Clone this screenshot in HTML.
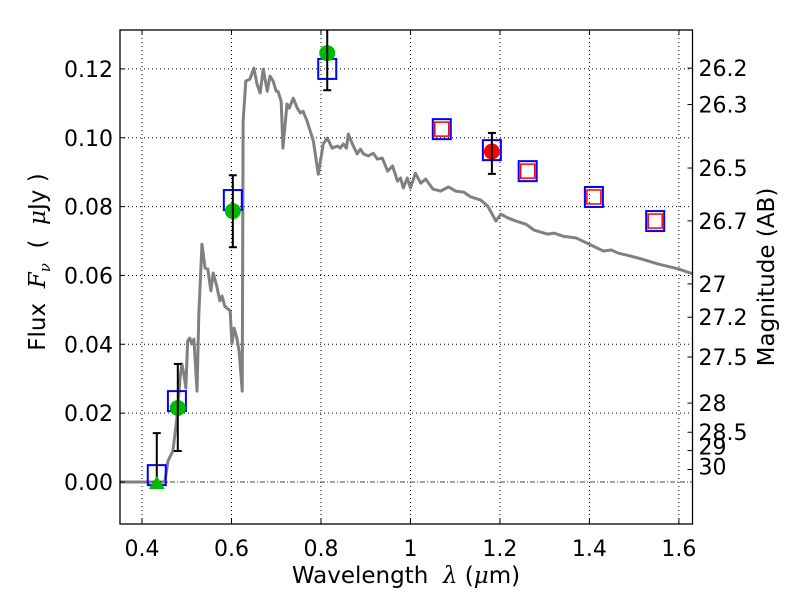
<!DOCTYPE html>
<html><head><meta charset="utf-8"><style>
body{margin:0;background:#fff}
svg text{font-family:"DejaVu Sans","Liberation Sans",sans-serif;fill:#000}
</style></head><body>
<svg id="chart" width="800" height="600" viewBox="0 0 800 600" xmlns="http://www.w3.org/2000/svg">
<rect x="0" y="0" width="800" height="600" fill="#fff"/>
<g id="grid"></g>
<g id="plot"></g>
<g id="axes"></g>
<text x="406" y="583" font-size="23" text-anchor="middle" xml:space="preserve">Wavelength  <tspan font-style="italic" font-family="DejaVu Serif,serif">λ</tspan> (<tspan font-style="italic" font-family="DejaVu Serif,serif">μ</tspan>m)</text>
<text transform="translate(45,262) rotate(-90)" font-size="23" text-anchor="middle" xml:space="preserve">Flux  <tspan font-style="italic" font-family="DejaVu Serif,serif">F</tspan><tspan font-style="italic" font-family="DejaVu Serif,serif" font-size="15" dy="5">ν</tspan><tspan dy="-5">  (  </tspan><tspan font-style="italic" font-family="DejaVu Serif,serif">μ</tspan>Jy )</text>
<text transform="translate(774,277) rotate(-90)" font-size="23" text-anchor="middle">Magnitude (AB)</text>
</svg>
<script>
const specWave=[0.350,0.440,0.451,0.458,0.469,0.478,0.485,0.489,0.4935,0.498,0.502,0.507,0.511,0.516,0.523,0.527,0.534,0.541,0.547,0.554,0.559,0.567,0.574,0.579,0.585,0.597,0.601,0.606,0.612,0.617,0.624,0.626,0.632,0.641,0.650,0.657,0.664,0.671,0.680,0.686,0.693,0.700,0.704,0.711,0.715,0.724,0.729,0.738,0.747,0.754,0.760,0.769,0.776,0.783,0.794,0.805,0.814,0.825,0.837,0.843,0.850,0.857,0.861,0.870,0.881,0.888,0.895,0.906,0.917,0.926,0.937,0.949,0.960,0.971,0.978,0.984,0.993,1.000,1.011,1.023,1.034,1.050,1.067,1.085,1.101,1.119,1.135,1.157,1.173,1.191,1.202,1.218,1.236,1.258,1.276,1.307,1.321,1.341,1.370,1.404,1.431,1.449,1.464,1.493,1.516,1.554,1.599,1.632];
const specFlux=[0,0,0,0.0061,0.0090,0.0186,0.0302,0.0343,0.0314,0.0273,0.0410,0.0418,0.0401,0.0415,0.0264,0.0488,0.0691,0.0621,0.0619,0.0555,0.0607,0.0569,0.0526,0.0540,0.0511,0.0497,0.0401,0.0447,0.0418,0.0380,0.0264,0.1048,0.1165,0.1170,0.1202,0.1156,0.1130,0.1199,0.1135,0.1179,0.1165,0.1135,0.1135,0.1106,0.0970,0.1098,0.1086,0.1115,0.1086,0.1072,0.1077,0.1048,0.1019,0.0990,0.0894,0.0982,0.0999,0.0970,0.0976,0.0970,0.0982,0.0970,0.1011,0.0982,0.0953,0.0967,0.0953,0.0947,0.0955,0.0938,0.0941,0.0903,0.0918,0.0874,0.0883,0.0854,0.0883,0.0854,0.0897,0.0868,0.0880,0.0851,0.0845,0.0857,0.0845,0.0842,0.0828,0.0819,0.0801,0.0758,0.0778,0.0767,0.0758,0.0749,0.0732,0.0720,0.0723,0.0714,0.0709,0.0688,0.0671,0.0674,0.0665,0.0656,0.0648,0.0633,0.0619,0.0604];
const modelWave=[0.433,0.478,0.603,0.814,1.070,1.182,1.262,1.410,1.547];
const modelFlux=[0.0020,0.0235,0.0819,0.1200,0.1025,0.0964,0.0903,0.0828,0.0758];
const redSqIdx=[4,6,7,8];
const obsWave=[0.480,0.603,0.814];
const obsFlux=[0.0215,0.0787,0.1246];
const obsErrLo=[0.0125,0.0105,0.0108];
const obsErrHi=[0.0128,0.0104,0.0110];
const limWave=[0.433];
const limFlux=[0.0];
const limErrHi=[0.0142];
const redWave=[1.182];
const redFlux=[0.0960];
const redErrLo=[0.0065];
const redErrHi=[0.0054];
const xTicks=[0.4,0.6,0.8,1.0,1.2,1.4,1.6];
const xTickLabels=["0.4","0.6","0.8","1","1.2","1.4","1.6"];
const yTicks=[0,0.02,0.04,0.06,0.08,0.10,0.12];
const yTickLabels=["0.00","0.02","0.04","0.06","0.08","0.10","0.12"];
const magTicks=[26.2,26.3,26.5,26.7,27,27.2,27.5,28,28.5,29,30];
const magLabels=["26.2","26.3","26.5","26.7","27","27.2","27.5","28","28.5","29","30"];

const L=120,R=692.5,T=30,B=524;
const xMin=0.3508,xMax=1.6304,yMin=-0.0122,yMax=0.1313;
const X=v=>L+(v-xMin)/(xMax-xMin)*(R-L);
const Y=v=>B-(v-yMin)/(yMax-yMin)*(B-T);
const NS="http://www.w3.org/2000/svg";
function mk(tag,attrs,parent){const e=document.createElementNS(NS,tag);for(const k in attrs)e.setAttribute(k,attrs[k]);parent.appendChild(e);return e;}
const grid=document.getElementById('grid'),plot=document.getElementById('plot'),axes=document.getElementById('axes');

xTicks.forEach((t,i)=>{
 const g=mk('line',{x1:X(t),x2:X(t),y1:T,y2:B,stroke:'#000','stroke-width':1,'stroke-dasharray':'1,3'},grid);
 
 
 const a=mk('line',{x1:X(t),x2:X(t),y1:B,y2:B-5,stroke:'#000','stroke-width':1},axes);
 
 
 const a2=mk('line',{x1:X(t),x2:X(t),y1:T,y2:T+5,stroke:'#000','stroke-width':1},axes);
 
 
 const tx=mk('text',{x:X(t),y:B+32,'font-size':22,'text-anchor':'middle'},axes);tx.textContent=xTickLabels[i];
 
 
});
yTicks.forEach((t,i)=>{
 if(t!==0){const g=mk('line',{x1:L,x2:R,y1:Y(t),y2:Y(t),stroke:'#000','stroke-width':1,'stroke-dasharray':'1,3'},grid);
 
 }
 const a=mk('line',{x1:L,x2:L+5,y1:Y(t),y2:Y(t),stroke:'#000','stroke-width':1},axes);
 
 
 const tx=mk('text',{x:L-7,y:Y(t)+8,'font-size':22,'text-anchor':'end'},axes);tx.textContent=yTickLabels[i];
 
 
});
const zl=mk('line',{x1:L,x2:R,y1:Y(0),y2:Y(0),stroke:'#444','stroke-width':1,'stroke-dasharray':'5,2,1,2'},grid);


magTicks.forEach((m,i)=>{
 const f=Math.pow(10,(23.9-m)/2.5);const y=Y(f);
 const a=mk('line',{x1:R,x2:R-5,y1:y,y2:y,stroke:'#000','stroke-width':1},axes);
 
 
 let ly=y+8; if(m===29)ly=y+4; if(m===30)ly=y+5;
 const tx=mk('text',{x:R+6,y:ly,'font-size':22},axes);tx.textContent=magLabels[i];
 
 
});
const cp=mk('clipPath',{id:'clip'},plot);mk('rect',{x:L,y:T,width:R-L,height:B-T},cp);
const pg=mk('g',{'clip-path':'url(#clip)'},plot);


const sp=mk('polyline',{points:specWave.map((w,i)=>X(w)+','+Y(specFlux[i])).join(' '),fill:'none',stroke:'#808080','stroke-width':3,'stroke-linejoin':'round'},pg);


function errbar(x,y,lo,hi,name){
 const x0=X(x);const y1=Y(y+hi),y2=Y(y-lo);
 const g=mk('g',{stroke:'#000','stroke-width':2},pg);
 
 
 mk('line',{x1:x0,x2:x0,y1:y1,y2:y2},g);
 mk('line',{x1:x0-4,x2:x0+4,y1:y1,y2:y1},g);
 mk('line',{x1:x0-4,x2:x0+4,y1:y2,y2:y2},g);
}
modelWave.forEach((w,i)=>{
 const r=mk('rect',{x:X(w)-9,y:Y(modelFlux[i])-10,width:18,height:20,fill:'none',stroke:'#0000ff','stroke-width':2},pg);
 
 
});
redSqIdx.forEach(i=>{
 const r=mk('rect',{x:X(modelWave[i])-7,y:Y(modelFlux[i])-7,width:14,height:14,fill:'none',stroke:'#ff0000','stroke-width':1.5},pg);
 
 
});
obsWave.forEach((w,i)=>{
 const c=mk('circle',{cx:X(w),cy:Y(obsFlux[i]),r:8,fill:'#00bb00'},pg);
 
 
 errbar(w,obsFlux[i],obsErrLo[i],obsErrHi[i],'observed-error-bar');
});
limWave.forEach((w,i)=>{
 errbar(w,limFlux[i],0,limErrHi[i],'limit-error-bar');
 const x0=X(w),y0=Y(limFlux[i]);
 const p=mk('polygon',{points:`${x0-8},${y0+7} ${x0+8},${y0+7} ${x0},${y0-6}`,fill:'#00bb00'},pg);
 
 
});
redWave.forEach((w,i)=>{
 const c=mk('circle',{cx:X(w),cy:Y(redFlux[i]),r:8,fill:'#ff0000'},pg);
 
 
 errbar(w,redFlux[i],redErrLo[i],redErrHi[i],'red-error-bar');
});
const fr=mk('rect',{x:L,y:T,width:R-L,height:B-T,fill:'none',stroke:'#000','stroke-width':1.3},axes);


</script>
</body></html>
